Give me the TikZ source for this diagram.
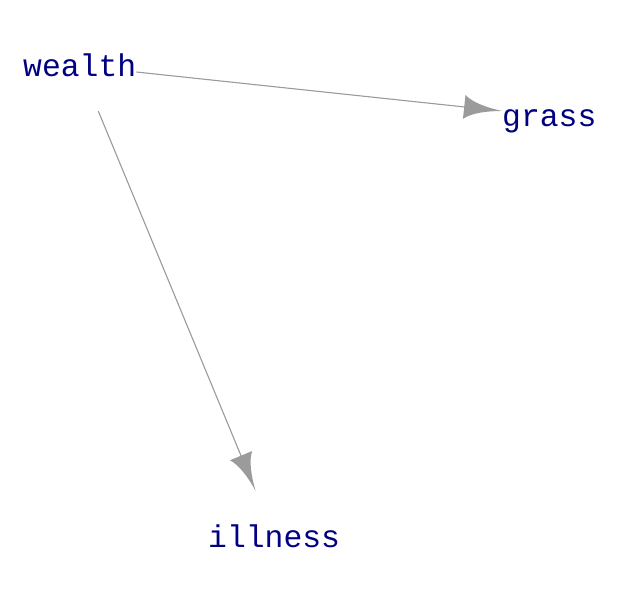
\documentclass[tikz,border=0pt]{standalone}
\usepackage{fontspec}
\setmonofont{Liberation Mono}
\usetikzlibrary{arrows.meta}
\definecolor{nodeText}{RGB}{0,0,128}
\definecolor{edgeGray}{RGB}{155,155,155}
% curved-sided arrow head
\pgfdeclarearrow{
  name=DagTip,
  setup code={
    \pgfarrowssettipend{0pt}
    \pgfarrowssetlineend{-18bp}
    \pgfarrowssetvisualbackend{-38bp}
    \pgfarrowssetbackend{-38bp}
    \pgfarrowshullpoint{0pt}{0pt}
    \pgfarrowshullpoint{-38bp}{12bp}
    \pgfarrowshullpoint{-38bp}{-12bp}
  },
  drawing code={
    \pgfpathmoveto{\pgfqpoint{0pt}{0pt}}
    \pgfpathcurveto{\pgfqpoint{-14bp}{1.5bp}}{\pgfqpoint{-30bp}{5bp}}{\pgfqpoint{-38bp}{12bp}}
    \pgfpathlineto{\pgfqpoint{-38bp}{-12bp}}
    \pgfpathcurveto{\pgfqpoint{-30bp}{-5bp}}{\pgfqpoint{-14bp}{-1.5bp}}{\pgfqpoint{0pt}{0pt}}
    \pgfpathclose
    \pgfusepathqfill
  }
}
\begin{document}
\begin{tikzpicture}[
  x=1bp,y=-1bp,
  font=\ttfamily\fontsize{31.5}{31.5}\selectfont,
  var/.style={text=nodeText,inner xsep=0pt,text height=22bp,text depth=0pt,minimum height=90bp,anchor=base west},
  edge/.style={-DagTip,line width=1.1pt,draw=edgeGray,fill=edgeGray}
]
\useasboundingbox (0,0) rectangle (621,605);
\node[var] (wealth) at (23,77) {wealth};
\node[var] (grass) at (502,127) {grass};
\node[var] (illness) at (208,547) {illness};
\draw[edge] (wealth) -- (grass);
\draw[edge] (wealth) -- (illness);
\end{tikzpicture}
\end{document}
